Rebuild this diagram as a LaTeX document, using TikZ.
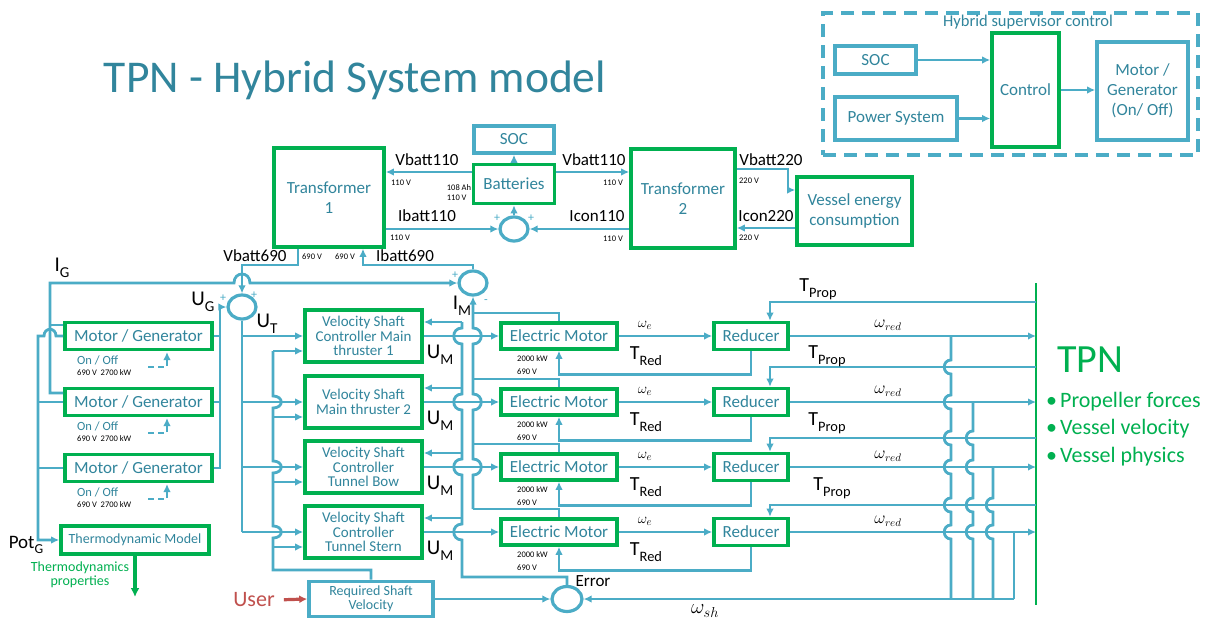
\documentclass[tikz,border=0pt]{standalone}
\usepackage{fontspec}
\setmainfont{Carlito}
\usepackage{amsmath}
\usepackage{graphicx}
\usepackage{xcolor}
\usetikzlibrary{arrows.meta,shapes.geometric}
\definecolor{lineblue}{HTML}{4BACC6}
\definecolor{boxgreen}{HTML}{00B050}
\definecolor{txtteal}{HTML}{31859C}
\definecolor{userred}{HTML}{C0504D}
\newcommand{\fsz}[2]{\fontsize{#1pt}{#2pt}\selectfont}
\newcommand{\lowsub}[2]{#1\raisebox{-0.6ex}{\scalebox{0.72}{#2}}}

\begin{document}
\begin{tikzpicture}[x=1pt,y=-1pt,
		wire/.style={draw=lineblue,line width=2.8pt},
		arr/.style={wire,-{Latex[length=8pt,width=7.5pt]}},
		gbox/.style={draw=boxgreen,line width=3.6pt,text=txtteal,align=center,inner sep=0pt,font=\fsz{17}{20}},
		bbox/.style={gbox,draw=lineblue},
		sumnode/.style={ellipse,draw=lineblue,line width=3.2pt,minimum width=28pt,minimum height=24pt,inner sep=0pt},
		lbl/.style={inner sep=0pt,font=\fsz{17}{20}},
		biglbl/.style={inner sep=0pt,font=\fsz{21}{24}},
		smalltxt/.style={inner sep=0pt,font=\fsz{8.5}{10}},
		pm/.style={inner sep=0pt,text=lineblue,font=\fsz{12}{12}}]
			\path[use as bounding box,fill=white] (0,0) rectangle (1215,624);
			\node[inner sep=0pt,text=txtteal,font=\fsz{45.5}{46}] (title) at (355,80) {TPN - Hybrid System model};

			\node[draw=lineblue,line width=3.5pt,dash pattern=on 13pt off 8pt,minimum width=375pt,minimum height=142pt,inner sep=0pt] (hsup) at (1010.5,84) {};
			\node[inner sep=0pt,text=txtteal,font=\fsz{16.5}{17}] (hsuplbl) at (1028,22) {Hybrid supervisor control};
			\node[bbox,minimum width=81pt,minimum height=28pt] (hsoc) at (875.5,60) {SOC};
			\node[bbox,minimum width=122pt,minimum height=43pt] (hpow) at (896,118.5) {Power System};
			\node[gbox,minimum width=67pt,minimum height=114pt] (hctrl) at (1025.5,90) {Control};
			\node[bbox,minimum width=91pt,minimum height=98pt] (hmg) at (1142.5,91) {Motor /\\Generator\\(On/ Off)};
			\draw[arr] (hsoc.east) -- (hctrl.west |- hsoc.east);
			\draw[arr] (hpow.east) -- (hctrl.west |- hpow.east);
			\draw[arr] (hctrl.east) -- (hmg.west |- hctrl.east);

			\node[bbox,minimum width=80pt,minimum height=27pt] (soc) at (514,139.5) {SOC};
			\node[gbox,minimum width=81pt,minimum height=39pt] (batt) at (514,184) {Batteries};
			\node[gbox,minimum width=110pt,minimum height=99pt] (trafoA) at (329,197.5) {Transformer\\1};
			\node[gbox,minimum width=104pt,minimum height=99pt] (trafoB) at (683,198.5) {Transformer\\2};
			\node[gbox,minimum width=115pt,minimum height=68pt] (vessel) at (854.5,211) {Vessel energy\\consumption};
			\node[sumnode] (sumB) at (514,229) {};
			\draw[arr] (batt.north) -- (soc.south);
			\draw[arr] (batt.west |- 0,172) -- (trafoA.east |- 0,172);
			\draw[arr] (batt.east |- 0,172) -- (trafoB.west |- 0,172);
			\draw[arr] (trafoA.east |- 0,229) -- (sumB.west);
			\draw[arr] (trafoB.west |- 0,229) -- (sumB.east);
			\draw[arr] (sumB.north) -- (batt.south);
			\draw[arr] (trafoB.east |- 0,169) -- (788,169) -- (788,190) -- (vessel.west |- 0,190);
			\draw[arr] (vessel.west |- 0,228) -- (trafoB.east |- 0,228);
			\node[lbl] (vb1) at (427,160) {Vbatt110};
			\node[lbl] (vb2) at (594,160) {Vbatt110};
			\node[lbl] (ib1) at (427,216) {Ibatt110};
			\node[lbl] (ic1) at (597,216) {Icon110};
			\node[lbl] (vb3) at (771,160) {Vbatt220};
			\node[lbl] (ic2) at (766,216) {Icon220};
			\node[smalltxt] (v1) at (401,183) {110 V};
			\node[smalltxt] (v2) at (613,183) {110 V};
			\node[smalltxt] (v3) at (400,238) {110 V};
			\node[smalltxt] (v4) at (613,239) {110 V};
			\node[smalltxt] (v5) at (749,181) {220 V};
			\node[smalltxt] (v6) at (749,238) {220 V};
			\node[smalltxt,align=left] (bcap) at (459,193) {108 Ah\\110 V};
			\node[smalltxt] (v7) at (312,257) {690 V};
			\node[smalltxt] (v8) at (345,257) {690 V};
			\node[pm] (pb1) at (497,218) {+};
			\node[pm] (pb2) at (531,218) {+};

			\node[sumnode] (sumU) at (242,307) {};
			\node[sumnode] (sumI) at (473,283) {};
			\node[pm] (pu1) at (223,298) {+};
			\node[pm] (pu2) at (254,295) {+};
			\node[pm] (pi1) at (455,275) {+};
			\node[pm] (pi2) at (486,302) {-};
			\draw[arr] (298,0 |- trafoA.south) -- (298,265) -- (242,265) -- (sumU.north);
			\draw[arr] (sumI.north) -- (473,265) -- (363,265) -- (363,0 |- trafoA.south);
			\node[lbl] (vb690) at (255,256) {Vbatt690};
			\node[lbl] (ib690) at (405,256) {Ibatt690};

			\foreach \i/\y in {1/336,2/402,3/468}{
				\node[gbox,minimum width=147pt,minimum height=27pt] (mg\i) at (138.5,\y) {Motor / Generator};
				\node[anchor=west,inner sep=0pt,text=txtteal,font=\fsz{12.5}{13}] (onoff\i) at (77,\y+24) {On / Off};
				\node[anchor=west,smalltxt] (mgrate\i) at (77,\y+37) {690 V\ \ 2700 kW};
				\coordinate (sw\i) at (148,\y+31);
				\draw[arr,dash pattern=on 6pt off 4pt] (sw\i) -- ++(19,0) -- ++(0,-15);
				\draw[wire] (mg\i.east) -- (220,\y);
			}
			\node[gbox,font=\fsz{14}{14},minimum width=148pt,minimum height=28pt] (thermo) at (135,540) {Thermodynamic Model};
			\coordinate (thermout) at (135,597);
			\draw[boxgreen,line width=3.2pt,-{Latex[length=9pt,width=9pt]}] (thermo.south) -- (thermout);
			\node[inner sep=0pt,text=boxgreen,align=center,font=\fsz{14}{14}] (thermolbl) at (80,575) {Thermodynamics\\properties};
			\draw[arr] (mg1.west) -- (56,336) .. controls (56,327) and (44,327) .. (44,336) -- (38,336) -- (38,540) -- (thermo.west);
			\draw[wire] (mg2.west) -- (38,402);
			\draw[wire] (mg3.west) -- (38,468);
			\draw[arr] (mg2.west |- 0,393) -- (50,393) -- (50,283) -- (234,283) .. controls (234,271) and (250,271) .. (250,283) -- (sumI.west);
			\draw[wire] (mg1.west |- 0,325) -- (50,325);
			\draw[arr] (mg3.east) -- (220,468) -- (220,307) -- (sumU.west);
			\node[biglbl] (igl) at (62,268) {\lowsub{I}{G}};
			\node[biglbl] (ugl) at (203,302) {\lowsub{U}{G}};
			\node[biglbl] (utl) at (267,324) {\lowsub{U}{T}};
			\node[biglbl] (iml) at (462,306) {\lowsub{I}{M}};
			\node[inner sep=0pt,font=\fsz{19}{19}] (potg) at (26,545) {\lowsub{Pot}{G}};

			\node[bbox,font=\fsz{14}{14},minimum width=124pt,minimum height=35pt] (rsv) at (371,599) {Required Shaft\\Velocity};
			\node[sumnode,minimum width=30pt,minimum height=25pt] (err) at (567,599) {};
			\node[inner sep=0pt,text=userred,font=\fsz{22}{22}] (user) at (254,600) {User};
			\draw[userred,line width=3.2pt,-{Latex[length=8pt,width=8pt]},shorten <=9pt] (user.east) -- (rsv.west);
			\draw[arr] (rsv.east) -- (err.west);
			\node[lbl] (errl) at (593,581) {Error};
			\node[inner sep=0pt,font=\fsz{20}{20}] (wsh) at (705,611) {$\omega_{sh}$};

			\coordinate (tpntop) at (1036,283);
			\coordinate (tpnbot) at (1036,605);
			\draw[boxgreen,line width=2.8pt] (tpntop) -- (tpnbot);
			\node[inner sep=0pt,text=boxgreen,font=\fsz{40}{40}] (tpn) at (1090,360) {TPN};
			\foreach \j/\y/\t in {1/402/Propeller forces,2/429/Vessel velocity,3/457/Vessel physics}
				\node[anchor=west,inner sep=0pt,text=boxgreen,font=\fsz{22}{22}] (tpnitem\j) at (1046,\y) {\textbullet\hspace{3pt}\t};

			\foreach \i/\y/\txt in {1/336/{Velocity Shaft\\Controller Main\\thruster 1},2/402/{Velocity Shaft\\Main thruster 2},3/467/{Velocity Shaft\\Controller\\Tunnel Bow},4/532/{Velocity Shaft\\Controller\\Tunnel Stern}}{
				\node[gbox,font=\fsz{15}{14.5},minimum width=117pt,minimum height=52pt] (vsc\i) at (363.5,\y) {\txt};
				\node[gbox,minimum width=116pt,minimum height=26pt] (em\i) at (559,\y) {Electric Motor};
				\node[gbox,minimum width=74pt,minimum height=27pt] (red\i) at (751,\y) {Reducer};
				\node[smalltxt,anchor=west] (empw\i) at (517,\y+23) {2000 kW};
				\node[smalltxt,anchor=west] (emv\i) at (517,\y+36) {690 V};
				\draw[arr] (242,\y) -- (vsc\i.west |- 0,\y);
				\draw[arr] (273,\y+15) -- (vsc\i.west |- 0,\y+15);
				\draw[arr] (462,\y-14) -- (vsc\i.east |- 0,\y-14);
				\draw[arr] (vsc\i.east) -- (em\i.west);
				\draw[wire] (473,\y-23) -| (em\i.north);
				\draw[arr] (em\i.east) -- (red\i.west);
				\draw[arr] (red\i.south) -- ++(0,23) -| (em\i.south);
				\draw[arr] (red\i.east) -- (tpntop |- red\i.east);
				\node[biglbl] (um\i) at (440,\y+19) {\lowsub{U}{M}};
				\node[inner sep=0pt,font=\fsz{15}{15}] (we\i) at (645,\y-11) {$\omega_e$};
				\node[inner sep=0pt,font=\fsz{20}{20}] (trd\i) at (646,\y+20) {\lowsub{T}{Red}};
				\node[inner sep=0pt,font=\fsz{16}{16}] (wr\i) at (888,\y-11) {$\omega_{red}$};
			}
			\foreach \i/\p/\lx/\ly in {1/302/818/289,2/367/827/356,3/438/827/423,4/505/832/488}{
				\draw[arr] (tpntop |- 0,\p) -- (770,\p) -- (770,0 |- red\i.north);
				\node[inner sep=0pt,font=\fsz{20}{20}] (tp\i) at (\lx,\ly) {\lowsub{T}{Prop}};
			}

			\draw[wire] (sumU.south) -- (242,532);
			\draw[wire] (rsv.north) -- (rsv.north |- 0,570) -- (273,570) \foreach \c in {532,467,402}{ -- (273,\c+6) .. controls (284,\c+6) and (284,\c-6) .. (273,\c-6)} -- (273,351);
			\draw[wire] (err.north) -- (err.north |- 0,577) -- (462,577) \foreach \c in {532,467,402,336}{ -- (462,\c+8) .. controls (451,\c+8) and (451,\c-8) .. (462,\c-8)} -- (462,322);
			\draw[arr] (473,509) \foreach \c in {467,402,336}{ -- (473,\c+8) .. controls (484,\c+8) and (484,\c-8) .. (473,\c-8)} -- (sumI.south);

			\foreach \tx/\ty/\cl in {951/336/{367,402,438,467,505,532},973/402/{438,467,505,532},993/467/{505,532}}{
				\draw[wire] (\tx,\ty) \foreach \c in \cl {-- (\tx,\c-7) .. controls (\tx-9,\c-7) and (\tx-9,\c+7) .. (\tx,\c+7)} -- (\tx,599);
			}
			\draw[wire] (1014,532) -- (1014,599);
			\draw[arr] (1014,599) -- (err.east);
		\end{tikzpicture}
\end{document}
